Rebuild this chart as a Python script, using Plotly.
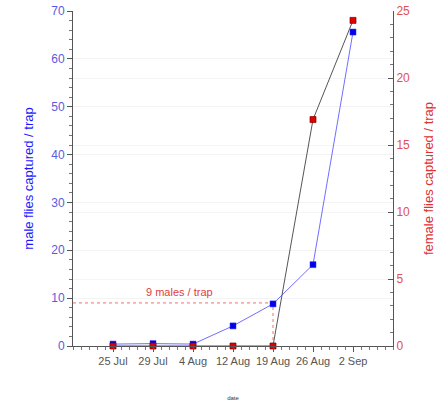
import plotly.graph_objects as go

dates = ["25 Jul", "29 Jul", "4 Aug", "12 Aug", "19 Aug", "26 Aug", "2 Sep"]
males_per_trap = [0.4, 0.5, 0.4, 4.2, 8.8, 17.0, 65.6]
right_series = [0, 0, 0, 0, 0, 16.9, 24.3]
threshold = 9
threshold_idx = 4
threshold_label = "9 males / trap"

xi = list(range(len(dates)))

fig = go.Figure()
fig.add_trace(go.Scatter(
    x=xi, y=males_per_trap, mode="lines+markers",
    line=dict(color="#6f6fff", width=1),
    marker=dict(symbol="square", size=6, color="#0000e8", line=dict(color="#3030ff", width=0.5)),
    yaxis="y", showlegend=False, cliponaxis=False))
fig.add_trace(go.Scatter(
    x=xi, y=right_series, mode="lines+markers",
    line=dict(color="#555555", width=1),
    marker=dict(symbol="square", size=6, color="#e00000", line=dict(color="#800000", width=0.7)),
    yaxis="y2", showlegend=False, cliponaxis=False))

# threshold guide lines
fig.add_shape(type="line", xref="x", yref="y", x0=-1, x1=threshold_idx, y0=threshold, y1=threshold,
              line=dict(color="#f07070", width=1, dash="dot"), layer="below")
fig.add_shape(type="line", xref="x", yref="y", x0=threshold_idx, x1=threshold_idx, y0=0, y1=threshold,
              line=dict(color="#f07070", width=1, dash="dot"), layer="below")
fig.add_annotation(x=1.67, y=threshold + 0.6, xref="x", yref="y", text=threshold_label,
                   showarrow=False, yanchor="bottom",
                   font=dict(color="#e04040", size=11, family="Liberation Sans"))

fig.update_layout(
    width=436, height=404,
    margin=dict(l=73, r=43, t=11, b=58, autoexpand=False),
    plot_bgcolor="white", paper_bgcolor="white",
    font=dict(family="Liberation Sans"),
    xaxis=dict(
        range=[-1, 7], tickvals=xi, ticktext=dates, automargin=False,
        ticklabeloverflow="allow",
        showline=True, linecolor="#555", linewidth=1,
        ticks="outside", ticklen=5, tickcolor="#555",
        minor=dict(dtick=0.2, tick0=0, ticks="outside", ticklen=3, tickcolor="#777"),
        showgrid=False, zeroline=False,
        tickfont=dict(size=11, color="#555"),
        title=dict(text="date", font=dict(size=6, color="#333"), standoff=29),
    ),
    yaxis=dict(
        range=[0, 70], dtick=10, automargin=False,
        ticklabeloverflow="allow",
        showline=True, linecolor="#555", linewidth=1,
        ticks="outside", ticklen=5, tickcolor="#555",
        minor=dict(dtick=2, ticks="outside", ticklen=3, tickcolor="#777", showgrid=False),
        showgrid=True, gridcolor="#f3f3f3", zeroline=False,
        tickfont=dict(size=12, color="#5a5ae0"),
        title=dict(text="male flies captured / trap", font=dict(size=13, color="#1a1aff"), standoff=14),
    ),
    yaxis2=dict(
        range=[0, 25], dtick=5, overlaying="y", side="right", automargin=False,
        ticklabeloverflow="allow",
        showline=True, linecolor="#555", linewidth=1,
        ticks="inside", ticklen=5, tickcolor="#555",
        minor=dict(dtick=1, ticks="inside", ticklen=3, tickcolor="#777", showgrid=False),
        showgrid=True, gridcolor="#f5f5f5", zeroline=False,
        tickfont=dict(size=12, color="#e05050"),
        title=dict(text="female flies captured / trap", font=dict(size=13, color="#e03030"), standoff=20),
    ),
)

fig.write_html("out.html", config={"displayModeBar": False},
               post_script="document.body.style.margin='0';")
